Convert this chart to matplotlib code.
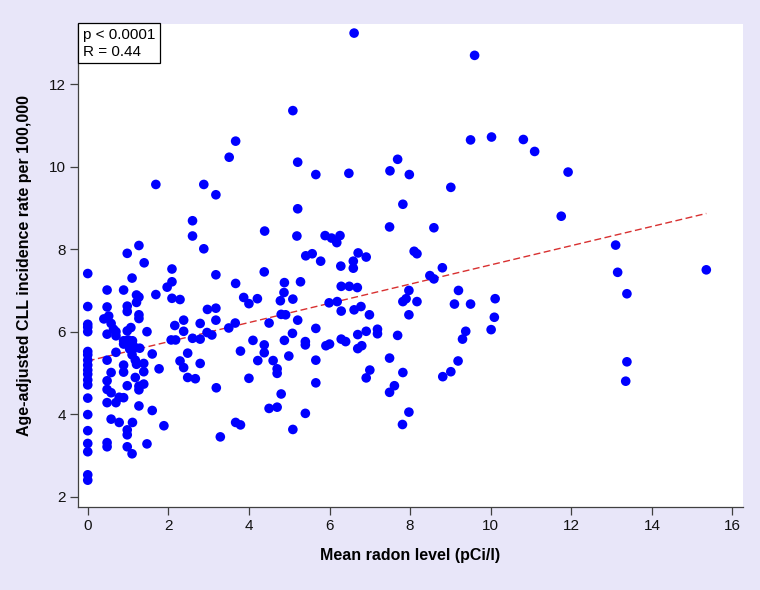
import numpy as np
import matplotlib
matplotlib.use("Agg")
import matplotlib.pyplot as plt

plt.rcParams['font.family'] = ['Liberation Sans', 'DejaVu Sans']

# mean radon level (pCi/l) and CLL incidence
radon = [
    5.09, 3.67, 3.51, 5.21, 5.66, 1.69, 2.88, 3.18, 5.21, 2.60, 2.60, 4.39, 5.19, 1.27, 0.98, 2.88,
    5.41, 5.57, 1.40, 0.00, 2.09, 1.10, 3.18, 4.38, 2.09, 1.97, 3.67, 4.88, 5.28, 0.48, 0.89, 1.21,
    1.27, 1.69, 2.09, 2.29, 3.87, 4.00, 4.21, 4.87, 4.78, 5.09, 1.21, 0.00, 0.48, 0.98, 2.97, 3.18,
    0.98, 0.40, 0.52, 0.58, 0.48, 0.64, 0.70, 0.70, 0.00, 0.00, 0.00, 1.07, 0.98, 1.27, 1.27, 1.47,
    2.16, 2.38, 2.38, 2.79, 2.96, 3.08, 3.18, 3.50, 3.66, 4.50, 4.80, 4.91, 5.21, 5.66, 5.08, 0.89,
    0.89, 1.00, 1.11, 1.11, 1.04, 1.18, 1.29, 1.10, 1.18, 1.21, 1.39, 1.39, 1.18, 1.39, 1.27, 1.27,
    0.98, 0.70, 0.48, 0.89, 0.89, 0.58, 0.48, 0.48, 0.58, 0.48, 0.70, 0.78, 0.89, 1.27, 1.60, 0.00,
    0.00, 0.00, 0.00, 0.00, 0.00, 0.00, 0.00, 0.00, 0.00, 0.00, 0.00, 0.00, 0.00, 0.00, 0.58, 0.78,
    1.11, 0.98, 0.98, 0.48, 0.48, 0.98, 1.10, 1.47, 1.89, 1.60, 1.77, 2.29, 2.38, 2.48, 2.48, 2.67,
    2.79, 2.60, 2.79, 2.07, 2.18, 3.19, 3.29, 3.67, 3.79, 3.79, 4.00, 4.10, 4.22, 4.38, 4.38, 4.60,
    4.70, 4.70, 4.80, 4.50, 4.70, 4.88, 4.99, 5.09, 5.40, 5.40, 5.40, 5.66, 5.66,
    6.61, 9.60, 9.50, 10.02, 10.81, 11.09, 6.48, 7.69, 7.50, 7.98, 9.01, 7.82, 7.49, 8.59, 5.89, 6.05,
    6.26, 6.18, 5.78, 6.28, 6.59, 6.59, 6.71, 6.91, 8.10, 8.17, 8.80,
    8.49, 8.59, 6.29, 6.49, 6.69, 7.97, 9.20, 5.99, 6.19, 6.29, 6.61, 6.78, 6.99, 7.82, 7.90, 8.17,
    7.97, 9.10, 9.50, 10.11, 10.09, 10.01, 9.38, 9.30, 9.19, 9.01, 8.81, 5.91, 6.00, 6.29, 6.40, 6.70,
    6.91, 7.19, 7.19, 7.69, 6.70, 6.80, 7.49, 7.00, 6.91, 7.82, 7.61, 7.49, 7.97, 7.81,
    11.92, 11.75, 13.10, 13.15, 13.38, 13.38, 13.35, 15.35,
]
cll_rate = [
    11.36, 10.62, 10.23, 10.11, 9.81, 9.57, 9.57, 9.32, 8.98, 8.69, 8.32, 8.44, 8.32, 8.09, 7.90, 8.01,
    7.84, 7.89, 7.67, 7.41, 7.52, 7.30, 7.38, 7.45, 7.21, 7.08, 7.17, 7.19, 7.21, 7.01, 7.01, 6.89,
    6.84, 6.90, 6.81, 6.78, 6.83, 6.68, 6.80, 6.95, 6.75, 6.79, 6.71, 6.61, 6.60, 6.62, 6.54, 6.57,
    6.49, 6.31, 6.38, 6.20, 5.94, 6.06, 6.00, 5.90, 6.18, 6.11, 6.00, 6.10, 6.02, 6.41, 6.32, 6.00,
    6.15, 6.28, 6.01, 6.20, 5.98, 5.92, 6.28, 6.09, 6.21, 6.21, 6.42, 6.41, 6.28, 6.08, 5.96, 5.78,
    5.70, 5.80, 5.78, 5.70, 5.58, 5.61, 5.60, 5.44, 5.31, 5.21, 5.23, 5.03, 4.89, 4.73, 4.68, 4.59,
    4.69, 5.50, 5.31, 5.19, 5.02, 5.01, 4.81, 4.60, 4.52, 4.28, 4.28, 4.41, 4.40, 4.20, 4.09, 5.52,
    5.44, 5.31, 5.19, 5.07, 4.97, 4.83, 4.71, 4.39, 3.99, 3.60, 3.29, 3.09, 2.53, 2.40, 3.88, 3.80,
    3.80, 3.62, 3.50, 3.31, 3.21, 3.21, 3.04, 3.28, 3.72, 5.46, 5.10, 5.29, 5.13, 5.48, 4.89, 4.86,
    5.23, 5.84, 5.82, 5.80, 5.80, 4.64, 3.45, 3.80, 3.74, 5.53, 4.87, 5.79, 5.30, 5.68, 5.49, 5.30,
    5.10, 4.99, 4.49, 4.14, 4.17, 5.79, 5.41, 3.63, 4.02, 5.76, 5.68, 5.31, 4.76,
    13.24, 12.70, 10.65, 10.72, 10.66, 10.37, 9.84, 10.18, 9.90, 9.81, 9.50, 9.09, 8.54, 8.52, 8.33, 8.27,
    8.33, 8.16, 7.71, 7.59, 7.71, 7.54, 7.91, 7.81, 7.95, 7.89, 7.55,
    7.36, 7.28, 7.10, 7.10, 7.07, 7.00, 7.00, 6.70, 6.73, 6.50, 6.53, 6.61, 6.41, 6.73, 6.80, 6.73,
    6.41, 6.67, 6.67, 6.80, 6.35, 6.05, 6.01, 5.82, 5.29, 5.03, 4.91, 5.66, 5.70, 5.82, 5.76, 5.93,
    6.01, 6.06, 5.95, 5.91, 5.59, 5.66, 5.36, 5.07, 4.88, 5.01, 4.69, 4.53, 4.05, 3.75,
    9.87, 8.80, 8.10, 7.44, 6.92, 5.27, 4.80, 7.50,
]

# regression line as drawn in the figure
fit_intercept = 5.29
fit_slope = 0.233
stats_text = "p < 0.0001\nR = 0.44"

x = np.array(radon)
y = np.array(cll_rate)

fig = plt.figure(figsize=(7.6, 5.9), dpi=100, facecolor='#e8e6f9')
ax = fig.add_axes([0.1022, 0.1407, 0.8754, 0.8186])
ax.set_facecolor('white')

ax.scatter(x, y, s=48, color='#0000ff', edgecolors='none', zorder=3)

x_fit = np.array([0, x.max()])
ax.plot(x_fit, fit_intercept + fit_slope * x_fit, color='#d83030', lw=1.0,
        dashes=(5, 2.5), zorder=2)

ax.set_xlim(-0.25, 16.26)
ax.set_ylim(1.75, 13.46)
ax.set_xticks(np.arange(0, 17, 2))
ax.set_yticks(np.arange(2, 13, 2))

for side in ['top', 'right']:
    ax.spines[side].set_visible(False)
for side in ['left', 'bottom']:
    ax.spines[side].set_color('#404040')
    ax.spines[side].set_linewidth(0.9)
ax.tick_params(direction='out', length=5.5, width=0.9, color='#404040',
               labelsize=11, pad=3, labelcolor='#111111')

ax.set_xlabel('Mean radon level (pCi/l)', fontsize=11.5, fontweight='bold', labelpad=11)
ax.set_ylabel('Age-adjusted CLL incidence rate per 100,000', fontsize=11.5,
              fontweight='bold', labelpad=12)

ax.text(0.0075, 0.992, stats_text, transform=ax.transAxes, ha='left', va='top',
        fontsize=11, linespacing=1.25,
        bbox=dict(boxstyle='square,pad=0.3', facecolor='white', edgecolor='black', lw=0.9))

fig.savefig('out.png', dpi=100, facecolor=fig.get_facecolor())
